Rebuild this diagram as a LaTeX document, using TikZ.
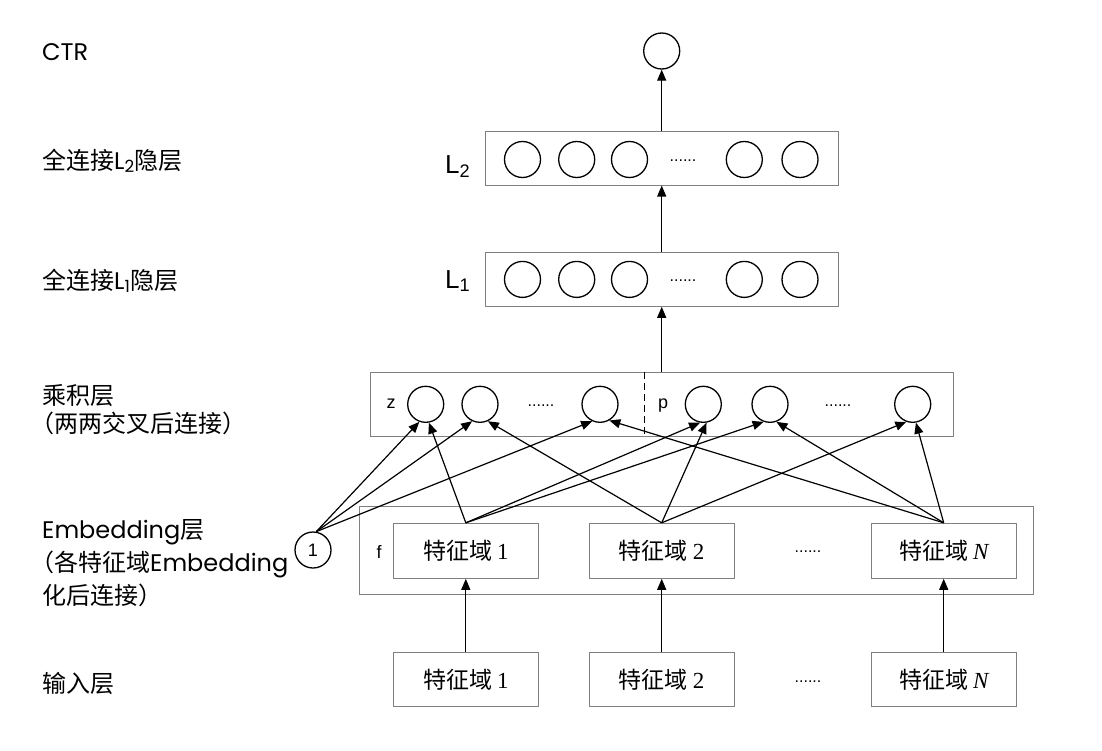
\documentclass[tikz,border=0pt]{standalone}
\usepackage{fontspec}
\setmainfont{Liberation Sans}
\newfontfamily\cjk{Noto Sans CJK SC}
\newfontfamily\pop{Poppins}
\newfontfamily\tms{Liberation Serif}
\usetikzlibrary{arrows.meta}
\begin{document}
\begin{tikzpicture}[x=1pt,y=-1pt,
  lbl/.style={anchor=base west, inner sep=0, font=\fontsize{24}{28}\selectfont\pop},
  llbl/.style={anchor=base west, inner sep=0, font=\fontsize{26}{30}\selectfont},
  nd/.style={circle, draw, line width=1.3pt, minimum size=36pt, inner sep=0},
  layer/.style={draw=black!50, line width=1pt, inner sep=0},
  fbox/.style={draw=black!50, line width=1pt, minimum width=145pt, inner sep=0, font=\fontsize{23}{27}\selectfont},
  arr/.style={line width=1.2pt, -{Triangle[length=11pt,width=9pt]}},
  sm/.style={anchor=base, inner sep=0, font=\fontsize{18}{20}\selectfont},
  dots/.style={inner sep=0, font=\fontsize{16}{18}\selectfont},
  sep/.style={line width=1.2pt, dash pattern=on 7pt off 4pt},
]
\fill[white] (0,0) rectangle (1102,750);
\useasboundingbox (0,0) rectangle (1102,750);

% left labels
\node[lbl] (tctr) at (42,60) {CTR};
\node[lbl] (tl2) at (42,169) {{\cjk 全连接}L\textsubscript{2}{\cjk 隐层}};
\node[lbl] (tl1) at (42,289) {{\cjk 全连接}L\textsubscript{1}{\cjk 隐层}};
\node[lbl] (tp1) at (42,404) {{\cjk 乘积层}};
\node[lbl] (tp2) at (30,432) {{\cjk （两两交叉后连接）}};
\node[lbl] (te1) at (42,538) {Embedding{\cjk 层}};
\node[lbl] (te2) at (30,571) {{\cjk （各特征域}Embedding};
\node[lbl] (te3) at (42,604) {{\cjk 化后连接）}};
\node[lbl] (tin) at (42,692) {{\cjk 输入层}};

% output
\node[nd] (ctr) at (661.7,51) {};

% L2 layer
\node[layer, minimum width=353pt, minimum height=53.3pt] (l2box) at (661.7,158.4) {};
\node[llbl] (l2lab) at (445,173) {L\textsubscript{2}};
\node[nd] (a1) at (522.5,159.5) {};
\node[nd] (a2) at (576.7,159.5) {};
\node[nd] (a3) at (629.5,159.5) {};
\node[dots] (adots) at (683,161) {......};
\node[nd] (a4) at (744.3,159.5) {};
\node[nd] (a5) at (800,159.5) {};

% L1 layer
\node[layer, minimum width=353pt, minimum height=53.6pt] (l1box) at (661.7,279.5) {};
\node[llbl] (l1lab) at (445,288) {L\textsubscript{1}};
\node[nd] (b1) at (522.5,279.4) {};
\node[nd] (b2) at (576.7,279.4) {};
\node[nd] (b3) at (629.5,279.4) {};
\node[dots] (bdots) at (683,281) {......};
\node[nd] (b4) at (744.3,279.4) {};
\node[nd] (b5) at (800,279.4) {};

% product layer
\node[layer, minimum width=583pt, minimum height=63.7pt] (prod) at (661.7,404.2) {};
\coordinate (dtop) at (644.3,372.4);
\coordinate (dbot) at (644.3,436);
\draw[sep] (dtop) -- (dbot);
\node[sm] (zl) at (391,408.3) {z};
\node[sm] (pl) at (663,408.3) {p};
\node[nd] (z1) at (425.7,404.3) {};
\node[nd] (z2) at (480,404.3) {};
\node[dots] (zdots) at (541,406) {......};
\node[nd] (z3) at (600,404.3) {};
\node[nd] (p1) at (703.3,404.3) {};
\node[nd] (p2) at (770,404.3) {};
\node[dots] (pdots) at (838,406) {......};
\node[nd] (p3) at (912.7,404.3) {};

% embedding layer
\node[layer, minimum width=673.7pt, minimum height=87.6pt] (emb) at (696.2,550.5) {};
\node[sm] (fl) at (379,558.3) {f};
\node[fbox, minimum height=55pt] (f1) at (465.8,550.8) {{\cjk 特征域}\hspace{5pt}{\tms 1}};
\node[fbox, minimum height=55pt] (f2) at (661.7,550.8) {{\cjk 特征域}\hspace{5pt}{\tms 2}};
\node[dots] (fdots) at (808,552) {......};
\node[fbox, minimum height=55pt] (fN) at (943.7,550.8) {{\cjk 特征域}\hspace{5pt}{\tms\itshape N}};
\node[nd, font=\fontsize{18}{20}\selectfont] (one) at (313,550) {1};

% input layer
\node[fbox, minimum height=53.3pt] (in1) at (465.8,679.4) {{\cjk 特征域}\hspace{5pt}{\tms 1}};
\node[fbox, minimum height=53.3pt] (in2) at (661.7,679.4) {{\cjk 特征域}\hspace{5pt}{\tms 2}};
\node[dots] (indots) at (808,682) {......};
\node[fbox, minimum height=53.3pt] (inN) at (943.7,679.4) {{\cjk 特征域}\hspace{5pt}{\tms\itshape N}};

% vertical arrows
\draw[arr] (l2box.north) -- (ctr.south);
\draw[arr] (l1box.north) -- (l2box.south);
\draw[arr] (prod.north) -- (l1box.south);
\draw[arr] (in1) -- (f1);
\draw[arr] (in2) -- (f2);
\draw[arr] (inN) -- (fN);

% product connections
\draw[arr] (one.80) -- (z1.250);
\draw[arr] (one.80) -- (z2.245);
\draw[arr] (one.80) -- (z3.245);
\draw[arr] (f1.north) -- (z1.280);
\draw[arr] (f1.north) -- (p1.260);
\draw[arr] (f1.north) -- (p2.250);
\draw[arr] (f2.north) -- (z2.295);
\draw[arr] (f2.north) -- (p1.280);
\draw[arr] (f2.north) -- (p3.250);
\draw[arr] (fN.north) -- (z3.300);
\draw[arr] (fN.north) -- (p2.290);
\draw[arr] (fN.north) -- (p3.280);
\end{tikzpicture}
\end{document}
